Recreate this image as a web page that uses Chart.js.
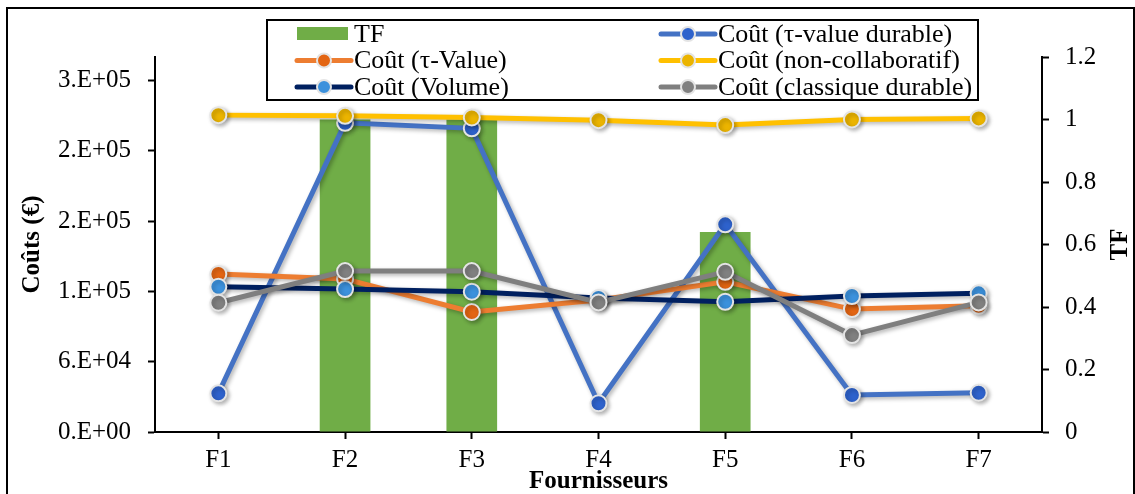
<!DOCTYPE html>
<html>
<head>
<meta charset="utf-8">
<script src="https://cdn.jsdelivr.net/npm/chart.js@4"></script>
<style>
  html, body { margin: 0; padding: 0; background: #fff; }
  #wrap { width: 1135px; height: 494px; position: relative; }
</style>
</head>
<body>
<div id="wrap"><canvas id="costChart"></canvas></div>
<script>
// ! data
const suppliers = ['F1', 'F2', 'F3', 'F4', 'F5', 'F6', 'F7'];
const tf = [0, 1, 1, 0, 0.64, 0, 0];
const coutTauDurable = [33000, 263800, 259100, 24500, 177200, 31600, 33500];
const coutTauValue = [134800, 130500, 102400, 112600, 128200, 104900, 107700];
const coutNonCollab = [270400, 269800, 268400, 266100, 261900, 266700, 267600];
const coutVolume = [123900, 122000, 119700, 114300, 111100, 116000, 118300];
const coutClassiqueDurable = [110300, 137300, 137300, 110600, 136700, 82700, 110600];
// left axis ticks (Excel shows them as 0.E+00 ... 3.E+05)
const costTicks = [0, 60000, 120000, 180000, 240000, 300000];

const FONT = 'Liberation Serif, Times New Roman, serif';

// Excel "0.E+00" style labels
function sciLabel(v) {
    if (v === 0) return '0.E+00';
    let exp = Math.floor(Math.log10(v));
    let mant = Math.round(v / Math.pow(10, exp));
    if (mant >= 10) { mant = 1; exp += 1; }
    return mant + '.E+' + String(exp).padStart(2, '0');
}

function lineSet(label, data, lineColor, markerColor, order) {
    return {
        type: 'line',
        label: label,
        data: data,
        yAxisID: 'y',
        borderColor: lineColor,
        backgroundColor: markerColor,
        borderWidth: 5,
        pointRadius: 8,
        pointBorderWidth: 2,
        pointBorderColor: '#e4e4e4',
        pointBackgroundColor: markerColor,
        tension: 0,
        order: order
    };
}

// shadows under lines and markers
const shadowPlugin = {
    id: 'shadow',
    beforeDatasetDraw(chart, args) {
        if (args.meta.type !== 'line') return;
        const ctx = chart.ctx;
        ctx.save();
        ctx.shadowColor = 'rgba(0,0,0,0.3)';
        ctx.shadowBlur = 4;
        ctx.shadowOffsetX = 2;
        ctx.shadowOffsetY = 2;
    },
    afterDatasetDraw(chart, args) {
        if (args.meta.type !== 'line') return;
        chart.ctx.restore();
    }
};

// two-column boxed legend + outer frame + right axis title
const boxLegend = {
    id: 'boxLegend',
    afterDraw(chart) {
        const ctx = chart.ctx;
        ctx.save();
        // outer frame
        ctx.strokeStyle = '#000';
        ctx.lineWidth = 2;
        ctx.strokeRect(7, 8, 1127, 500);

        // legend box
        ctx.fillStyle = '#fff';
        ctx.fillRect(267, 20, 711, 80);
        ctx.strokeRect(267, 20, 711, 80);

        const cols = [295, 659];
        const rows = [34, 60.5, 87];
        ctx.font = '26px ' + FONT;
        ctx.textBaseline = 'middle';
        ctx.textAlign = 'left';
        chart.data.datasets.forEach((ds, i) => {
            const x = cols[i % 2];
            const y = rows[Math.floor(i / 2)];
            if (ds.type === 'bar') {
                ctx.fillStyle = ds.backgroundColor;
                ctx.fillRect(x + 2, y - 7, 51, 13);
            } else {
                ctx.strokeStyle = ds.borderColor;
                ctx.lineWidth = 5;
                ctx.lineCap = 'round';
                ctx.beginPath();
                ctx.moveTo(x + 2, y);
                ctx.lineTo(x + 56, y);
                ctx.stroke();
                ctx.beginPath();
                ctx.arc(x + 29, y, 7, 0, Math.PI * 2);
                ctx.fillStyle = ds.pointBackgroundColor;
                ctx.fill();
                ctx.lineWidth = 2;
                ctx.strokeStyle = '#e4e4e4';
                ctx.stroke();
            }
            ctx.fillStyle = '#000';
            ctx.fillText(ds.label, x + 59, y + 1);
        });

        // right axis title, rotated like the left one
        const area = chart.chartArea;
        ctx.translate(1121, (area.top + area.bottom) / 2);
        ctx.rotate(-Math.PI / 2);
        ctx.textAlign = 'center';
        ctx.font = 'bold 25px ' + FONT;
        ctx.fillText('TF', 0, 0);
        ctx.restore();
    }
};

const axisGrid = {
    drawOnChartArea: false,
    drawTicks: true,
    tickLength: 7,
    tickWidth: 2,
    tickColor: '#000'
};

const costChart = document.getElementById('costChart').getContext('2d');
const cChart = new Chart(costChart, {
    data: {
        labels: suppliers,
        datasets: [
            {
                type: 'bar',
                label: 'TF',
                data: tf,
                yAxisID: 'y1',
                backgroundColor: '#70AD47',
                barPercentage: 0.4,
                categoryPercentage: 1.0,
                order: 6
            },
            lineSet('Coût (τ-value durable)', coutTauDurable, '#4472C4', '#2E62CC', 5),
            lineSet('Coût (τ-Value)', coutTauValue, '#ED7D31', '#E36513', 4),
            lineSet('Coût (non-collaboratif)', coutNonCollab, '#FFC000', '#EBB400', 3),
            lineSet('Coût (Volume)', coutVolume, '#002060', '#3C91DC', 2),
            lineSet('Coût (classique durable)', coutClassiqueDurable, '#7F7F7F', '#808080', 1)
        ]
    },
    options: {
        responsive: true,
        maintainAspectRatio: false,
        animation: false,
        layout: { padding: { top: 57, left: 8, right: 0, bottom: 0 } },
        plugins: {
            legend: { display: false },
            tooltip: { enabled: false }
        },
        scales: {
            x: {
                offset: true,
                grid: Object.assign({ offset: false }, axisGrid),
                border: { display: true, color: '#000', width: 2 },
                ticks: { color: '#000', font: { family: FONT, size: 25 }, padding: 6 },
                title: {
                    display: true,
                    text: 'Fournisseurs',
                    color: '#000',
                    font: { family: FONT, size: 25, weight: 'bold', lineHeight: 1 },
                    padding: { top: 0, bottom: 0 }
                },
                afterFit(scale) { scale.height = 62; }
            },
            y: {
                position: 'left',
                min: 0,
                max: 320000,
                grid: axisGrid,
                border: { display: true, color: '#000', width: 2 },
                ticks: {
                    color: '#000',
                    padding: 17,
                    font: { family: FONT, size: 25 },
                    callback: (v) => sciLabel(v)
                },
                afterBuildTicks(scale) {
                    scale.ticks = costTicks.map(v => ({ value: v }));
                },
                title: {
                    display: true,
                    text: 'Coûts (€)',
                    color: '#000',
                    font: { family: FONT, size: 25, weight: 'bold', lineHeight: 1 },
                    padding: { top: 12, bottom: 0 }
                },
                afterFit(scale) { scale.width = 147; }
            },
            y1: {
                position: 'right',
                min: 0,
                max: 1.2,
                grid: axisGrid,
                border: { display: true, color: '#000', width: 2 },
                ticks: {
                    stepSize: 0.2,
                    color: '#000',
                    padding: 16,
                    font: { family: FONT, size: 25 },
                    callback: (v) => String(Number(v.toFixed(1)))
                },
                afterFit(scale) { scale.width = 93; }
            }
        }
    },
    plugins: [shadowPlugin, boxLegend]
});
</script>
</body>
</html>
